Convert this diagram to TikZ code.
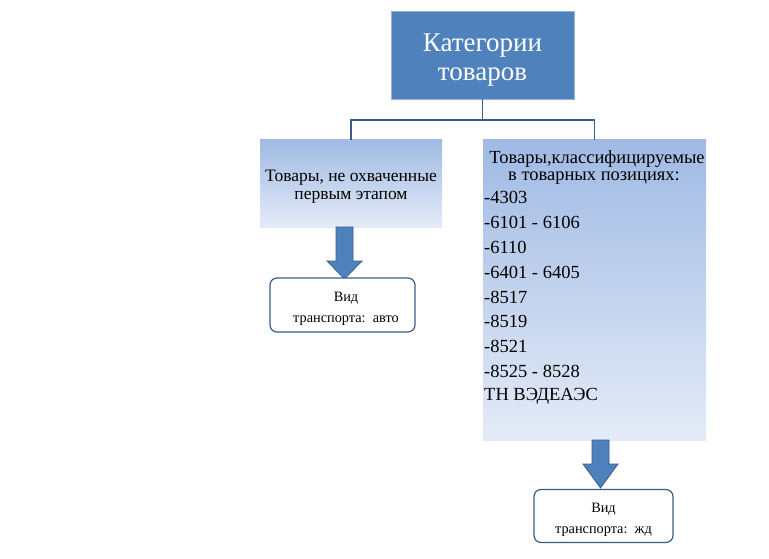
\documentclass[tikz,border=0pt]{standalone}
\usepackage{fontspec}
\setmainfont{Liberation Serif}
\usetikzlibrary{positioning}
\definecolor{catblue}{RGB}{79,129,189}
\definecolor{catdark}{RGB}{56,93,138}
\definecolor{gradtop}{RGB}{160,186,228}
\definecolor{gradbot}{RGB}{228,235,247}
\tikzstyle{line} = [catdark, line width=1.6pt]
\tikzstyle{header} = [rectangle, fill=catblue, draw=catblue!60, minimum width=183pt, minimum height=88pt]
\tikzstyle{group} = [rectangle, top color=gradtop, bottom color=gradbot, align=center, inner sep=0pt]
\tikzstyle{code} = [anchor=west, inner sep=0pt, font=\fontsize{18.5}{19}\selectfont]
\tikzstyle{transport} = [rectangle, rounded corners=7pt, draw=catdark, line width=1.2pt, fill=white]
\tikzstyle{transporttext} = [align=center, inner sep=0pt, font=\fontsize{14.3}{21}\selectfont]
\tikzstyle{blockarrow} = [fill=catblue, draw=catdark, line width=0.8pt]

\begin{document}
\begin{tikzpicture}[x=1pt, y=-1pt]
\useasboundingbox (0,0) rectangle (769,559);
% categories
\node[header] (cat) at (482.5,55) {};
\node[text=white, align=center, inner sep=0pt, font=\fontsize{27}{29}\selectfont] (cattext) at (482.5,60) {Категории\\товаров};
\node[group, minimum width=182pt, minimum height=87pt] (first) at (351,183.5) {};
\node[align=center, inner sep=0pt, font=\fontsize{17.5}{18}\selectfont] (firsttext) at (351,187) {Товары, не охваченные\\первым этапом};
\node[group, minimum width=223pt, minimum height=300pt] (codes) at (594.5,290) {};
\node[align=center, inner sep=0pt, font=\fontsize{18.5}{17}\selectfont] (title) at (594,168) {{\color{gradtop}-}Товары,классифицируемые\\в товарных позициях:};
\foreach \c [count=\i] in {-4303, -6101 - 6106, -6110, -6401 - 6405, -8517, -8519, -8521, -8525 - 8528, ТН ВЭДЕАЭС}
  \node[code] (c\i) at (484,173+24.8*\i) {\c};
% tree lines
\draw[line] (cat.south) -- ++(0,21) coordinate (fork);
\draw[line] (fork) -| (first.north);
\draw[line] (fork) -| (codes.north);
% transport
\draw[blockarrow] (336,227) -- (353,227) -- (353,261) -- (362,261) -- (344.5,279) -- (327,261) -- (336,261) -- cycle;
\draw[blockarrow] (592,440) -- (609,440) -- (609,464) -- (618,464) -- (600.5,488) -- (583,464) -- (592,464) -- cycle;
\node[transport, minimum width=145pt, minimum height=54pt] (auto) at (342.5,305) {};
\node[transporttext] (autotext) at (346,309) {Вид\\транспорта:\ \ авто};
\node[transport, minimum width=139pt, minimum height=53pt] (rail) at (603.5,516) {};
\node[transporttext] (railtext) at (603.5,520) {Вид\\транспорта:\ \ жд};
\end{tikzpicture}
\end{document}
